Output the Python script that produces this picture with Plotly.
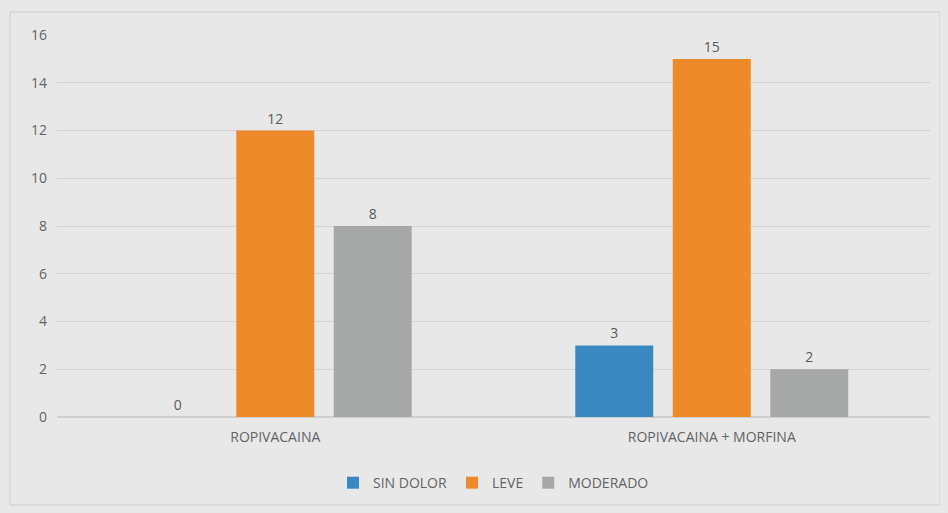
import plotly.graph_objects as go

categories = ["ROPIVACAINA", "ROPIVACAINA + MORFINA"]
series_names = ["SIN DOLOR", "LEVE", "MODERADO"]
sin_dolor = [0, 3]
leve = [12, 15]
moderado = [8, 2]
y_ticks = [0, 2, 4, 6, 8, 10, 12, 14, 16]

colors = ["#3a88c2", "#ef8a2a", "#a6a8a7"]
values = [sin_dolor, leve, moderado]
BG = "#e8e8e9"

fig = go.Figure()
for name, vals, col in zip(series_names, values, colors):
    fig.add_trace(go.Bar(
        x=categories, y=vals, name=name,
        marker=dict(color=col, line=dict(width=0)),
        text=vals, textposition="outside", cliponaxis=False,
        textfont=dict(color="#5a5a5a", size=14, family="Open Sans"),
    ))

W, H = 940, 505
L, R, T, B = 49, 18, 27, 96
pw, ph = W - L - R, H - T - B

fig.update_layout(
    width=W, height=H,
    paper_bgcolor=BG, plot_bgcolor=BG,
    margin=dict(l=L, r=R, t=T, b=B, autoexpand=False),
    barmode="group", bargap=0.33, bargroupgap=0.2,
    font=dict(family="Open Sans", color="#636363", size=14),
    showlegend=True,
    legend=dict(orientation="h", x=0.5, xanchor="center", y=-0.173, yanchor="middle",
                font=dict(size=14, color="#636363"), bgcolor="rgba(0,0,0,0)",
                itemwidth=30, traceorder="normal"),
    xaxis=dict(showgrid=False, zeroline=False, showline=False, ticks="",
               automargin=False, ticklabelstandoff=10,
               tickfont=dict(size=14, color="#636363")),
    yaxis=dict(range=[0, 16], tickvals=y_ticks, showgrid=True, gridcolor="#d2d2d2",
               gridwidth=1, zeroline=True, zerolinecolor="#cfcfcf", showline=False,
               ticks="", ticklabelstandoff=9, automargin=False,
               tickfont=dict(size=14, color="#636363")),
    shapes=[dict(type="rect", xref="paper", yref="paper",
                 x0=(2 - L) / pw, x1=(932 - L) / pw,
                 y0=-(497 - (H - B)) / ph, y1=((H - B) - 4) / ph,
                 line=dict(color="#cdcdcd", width=1))],
)

fig.write_html("out.html",
               post_script="document.body.style.background='%s';" % BG)
